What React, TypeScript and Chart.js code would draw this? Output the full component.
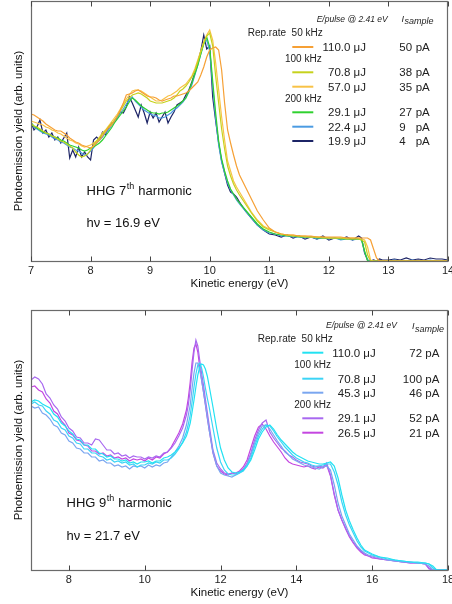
import React, { useEffect, useRef } from 'react';
import { Chart, registerables } from 'chart.js';

Chart.register(...registerables);

const FONT = '"Liberation Sans", Arial, Helvetica, sans-serif';

// ---------------- Top panel: HHG 7th harmonic ----------------
const energy7 = [
  7.0, 7.05, 7.1, 7.15, 7.2, 7.25, 7.3, 7.35, 7.4, 7.45, 7.5, 7.55, 7.6, 7.65, 7.7, 7.75, 7.8, 7.85, 7.9, 7.95,
  8.0, 8.05, 8.1, 8.15, 8.2, 8.25, 8.3, 8.35, 8.4, 8.45, 8.5, 8.55, 8.6, 8.65, 8.7, 8.75, 8.8, 8.85, 8.9, 8.95,
  9.0, 9.05, 9.1, 9.15, 9.2, 9.25, 9.3, 9.35, 9.4, 9.45, 9.5, 9.55, 9.6, 9.65, 9.7,
  9.75, 9.8, 9.85, 9.9, 9.95, 10.0, 10.05, 10.1, 10.15, 10.2, 10.25, 10.3, 10.35, 10.4, 10.45, 10.5,
  10.6, 10.7, 10.8, 10.9, 11.0, 11.1, 11.2, 11.3, 11.4, 11.5, 11.6, 11.7, 11.8, 11.9, 12.0, 12.1, 12.2, 12.3, 12.4, 12.5,
  12.55, 12.6, 12.65, 12.7, 12.75, 12.8, 12.85, 12.9,
  13.0, 13.1, 13.2, 13.3, 13.4, 13.5, 13.6, 13.7, 13.8, 13.9, 14.0,
];

const h7_110 = [
  147, 146, 144, 142, 140, 137, 135, 133, 131, 130, 130, 128, 126, 123, 121, 119, 118, 116, 115, 114,
  113, 115, 118, 121, 125, 129, 133, 136, 140, 145, 151, 158, 166, 167, 168, 170, 171, 169, 167, 165,
  164, 164, 163, 161, 160, 161, 162, 163, 165, 165, 166, 167, 168, 170, 173,
  176, 179, 186, 194, 204, 211, 213, 214, 211, 191, 158, 131, 118, 106, 95, 86,
  74, 62, 50, 41, 33, 29, 27, 26, 26, 25, 25, 25, 24, 24, 24, 24, 24, 23, 23, 23,
  23, 23, 23, 21, 12, 3, 0, 0,
  0, 0, 0, 0, 0, 0, 0, 0, 0, 0, 0,
];
const h7_708 = [
  137, 135, 134, 132, 130, 128, 127, 125, 124, 122, 120, 119, 117, 115, 113, 109, 106, 104, 105, 107,
  111, 116, 120, 123, 127, 130, 134, 137, 141, 145, 150, 155, 160, 163, 166, 167, 168, 167, 165, 163,
  160, 159, 158, 158, 158, 159, 160, 161, 163, 166, 170, 172, 175, 179, 184,
  190, 199, 209, 218, 225, 228, 215, 185, 158, 132, 112, 95, 85, 77, 71, 66,
  57, 48, 40, 34, 31, 29, 27, 26, 25, 25, 24, 24, 24, 23, 23, 23, 23, 22, 22, 22,
  21, 19, 6, 0, 0, 0, 0, 0,
  0, 0, 0, 0, 0, 0, 0, 0, 0, 0, 0,
];
const h7_570 = [
  140, 139, 138, 137, 136, 134, 133, 131, 130, 128, 127, 125, 123, 121, 120, 118, 117, 115, 114, 115,
  116, 118, 120, 124, 128, 131, 135, 139, 143, 147, 152, 157, 162, 166, 170, 171, 171, 170, 168, 166,
  164, 162, 160, 160, 161, 163, 165, 166, 168, 170, 173, 175, 177, 181, 185,
  192, 201, 210, 219, 226, 231, 221, 198, 171, 144, 121, 100, 90, 80, 74, 69,
  59, 49, 41, 35, 32, 29, 27, 26, 26, 25, 25, 24, 24, 24, 23, 23, 23, 23, 23, 23,
  22, 21, 14, 1, 0, 0, 0, 0,
  0, 0, 0, 0, 0, 0, 0, 0, 0, 0, 0,
];
const h7_291 = [
  138, 135, 133, 131, 129, 128, 127, 125, 124, 123, 121, 120, 118, 116, 115, 114, 113, 111, 110, 111,
  113, 114, 116, 118, 121, 125, 129, 133, 138, 142, 146, 150, 154, 159, 163, 161, 158, 155, 153, 151,
  149, 148, 148, 147, 148, 148, 149, 151, 153, 155, 157, 160, 163, 170, 178,
  187, 196, 207, 217, 224, 214, 180, 148, 120, 102, 90, 80, 72, 67, 62, 58,
  51, 44, 37, 32, 29, 27, 26, 25, 25, 24, 24, 24, 23, 23, 23, 23, 22, 22, 22, 22,
  21, 10, 0, 0, 0, 0, 0, 0,
  0, 0, 0, 0, 0, 0, 0, 0, 0, 0, 0,
];
const h7_224 = [
  138, 134, 132, 130, 128, 127, 126, 124, 122, 121, 119, 118, 116, 114, 113, 111, 110, 108, 106, 107,
  110, 113, 118, 121, 124, 128, 131, 135, 139, 143, 148, 152, 157, 161, 164, 160, 157, 154, 151, 149,
  147, 146, 145, 143, 143, 144, 146, 148, 151, 153, 156, 159, 163, 169, 176,
  186, 196, 207, 218, 221, 210, 175, 142, 116, 99, 88, 78, 71, 66, 61, 57,
  50, 43, 36, 31, 28, 27, 25, 25, 24, 24, 23, 24, 22, 23, 22, 23, 21, 22, 21, 22,
  21, 9, 1, 0, 0, 0, 0, 0,
  0, 1, 0, 0, 1, 0, 0, 1, 0, 0, 0,
];
const h7_199 = [
  139, 131, 134, 141, 128, 131, 124, 128, 121, 124, 118, 123, 128, 103, 111, 104, 114, 104, 109, 104,
  101, 121, 124, 121, 129, 126, 133, 138, 139, 144, 149, 148, 154, 164, 158, 151, 144, 156, 148, 138,
  149, 143, 148, 139, 144, 149, 138, 144, 149, 156, 158, 160, 166, 171, 179,
  188, 198, 210, 226, 212, 215, 164, 140, 118, 100, 88, 76, 69, 67, 64, 59,
  50, 43, 36, 31, 27, 26, 24, 26, 23, 25, 22, 24, 22, 25, 21, 23, 22, 24, 21, 25,
  23, 8, 1, 0, 1, 0, 2, 1,
  1, 2, 1, 3, 1, 2, 1, 3, 2, 2, 1,
];
const ticks7 = [7, 8, 9, 10, 11, 12, 13, 14];
const pulse7 = ['110.0 \u03bcJ', '70.8 \u03bcJ', '57.0 \u03bcJ', '29.1 \u03bcJ', '22.4 \u03bcJ', '19.9 \u03bcJ'];
const current7 = ['50', '38', '35', '27', '9', '4'];
const colors7 = ['#f6a035', '#c6d21c', '#f8c246', '#2fd12f', '#4b9be2', '#1c2466'];

// ---------------- Bottom panel: HHG 9th harmonic ----------------
const energy9 = [
  7.0, 7.1, 7.2, 7.3, 7.4, 7.5, 7.6, 7.7, 7.8, 7.9, 8.0, 8.1, 8.2, 8.3, 8.4, 8.5, 8.6, 8.7, 8.8, 8.9,
  9.0, 9.1, 9.2, 9.3, 9.4, 9.5, 9.6, 9.7, 9.8, 9.9, 10.0, 10.1, 10.2, 10.3, 10.4, 10.5, 10.6,
  10.7, 10.8, 10.9, 11.0, 11.1, 11.15, 11.2, 11.25, 11.3, 11.35, 11.4, 11.45, 11.5, 11.55, 11.6, 11.65, 11.7, 11.8, 11.9, 12.0,
  12.1, 12.2, 12.3, 12.4, 12.5, 12.6, 12.7, 12.8, 12.9, 13.0,
  13.1, 13.2, 13.3, 13.4, 13.5, 13.6, 13.7, 13.8, 13.9, 14.0,
  14.1, 14.2, 14.3, 14.4, 14.5, 14.6, 14.7, 14.8, 14.9, 15.0,
  15.1, 15.2, 15.3, 15.4, 15.5, 15.6, 15.7, 15.8, 15.9,
  16.0, 16.2, 16.4, 16.6, 16.8, 17.0, 17.2, 17.4,
  17.5, 17.6, 17.7, 17.8, 18.0,
];
const h9_110 = [
  168, 170, 169, 166, 164, 162, 156, 153, 147, 144, 139, 136, 131, 130, 125, 125, 121, 121, 117, 116,
  113, 114, 111, 111, 109, 110, 107, 108, 106, 108, 108, 109, 107, 109, 109, 112, 113,
  115, 118, 122, 127, 134, 140, 147, 158, 170, 183, 195, 203, 206, 205, 201, 194, 184, 163, 141, 122,
  110, 102, 98, 97, 98, 100, 104, 110, 120, 131,
  138, 143, 145, 141, 135, 130, 126, 122, 118, 115,
  113, 111, 109, 108, 107, 106, 106, 107, 108, 104,
  92, 75, 60, 49, 40, 32, 25, 20, 18,
  16, 13, 12, 10, 9, 8, 8, 7,
  6, 4, 0, 0, 0,
];
const h9_708 = [
  166, 168, 165, 164, 159, 156, 150, 148, 142, 140, 134, 132, 127, 126, 121, 121, 117, 117, 114, 113,
  110, 111, 108, 109, 107, 108, 105, 106, 103, 105, 105, 107, 106, 108, 107, 110, 110,
  112, 116, 121, 128, 138, 146, 155, 168, 183, 196, 205, 207, 202, 193, 182, 172, 163, 142, 122, 108,
  100, 96, 95, 95, 97, 99, 104, 112, 124, 134,
  141, 145, 144, 139, 133, 128, 123, 119, 115, 112,
  110, 108, 107, 105, 104, 104, 105, 106, 106, 98,
  85, 68, 55, 45, 37, 29, 23, 19, 17,
  15, 13, 11, 10, 9, 8, 7, 7,
  6, 2, 0, 0, 0,
];
const h9_453 = [
  164, 162, 163, 157, 155, 151, 145, 143, 137, 135, 129, 127, 122, 121, 117, 117, 113, 113, 109, 110,
  107, 107, 104, 105, 103, 104, 101, 104, 103, 104, 102, 105, 103, 105, 104, 107, 108,
  113, 118, 124, 132, 145, 155, 165, 182, 197, 207, 207, 200, 190, 178, 166, 153, 140, 118, 104, 97,
  95, 94, 93, 95, 97, 100, 106, 115, 127, 137,
  144, 145, 141, 135, 129, 124, 118, 115, 111, 109,
  107, 105, 104, 103, 102, 101, 103, 104, 100, 85,
  67, 54, 45, 36, 30, 24, 20, 17, 15,
  14, 12, 10, 9, 8, 8, 7, 6,
  4, 0, 0, 0, 0,
];
const h9_291 = [
  190, 193, 191, 186, 176, 172, 165, 161, 153, 149, 142, 139, 133, 132, 127, 127, 125, 131, 130, 125,
  120, 120, 116, 117, 114, 115, 112, 114, 113, 113, 111, 113, 112, 114, 113, 117, 118,
  122, 127, 134, 142, 155, 165, 180, 200, 218, 230, 224, 210, 197, 185, 171, 158, 145, 120, 107, 101,
  97, 96, 97, 96, 98, 101, 107, 117, 130, 140,
  147, 150, 138, 132, 127, 122, 119, 115, 113, 110,
  108, 107, 106, 104, 103, 104, 103, 107, 95, 76,
  60, 50, 42, 34, 28, 23, 19, 16, 14,
  13, 11, 10, 9, 8, 7, 7, 6,
  1, 0, 0, 0, 0,
];
const h9_265 = [
  183, 184, 180, 178, 171, 167, 159, 156, 149, 145, 137, 135, 130, 129, 125, 124, 119, 119, 116, 117,
  114, 115, 112, 113, 111, 112, 109, 111, 110, 111, 109, 112, 110, 113, 112, 116, 118,
  123, 130, 137, 146, 160, 172, 188, 208, 222, 226, 218, 203, 190, 178, 165, 152, 140, 117, 104, 99,
  96, 95, 97, 97, 99, 103, 110, 122, 134, 143,
  146, 141, 134, 128, 123, 118, 112, 108, 106, 105,
  104, 103, 104, 102, 101, 103, 102, 105, 94, 75,
  60, 50, 41, 33, 27, 22, 18, 15, 14,
  12, 11, 10, 9, 8, 7, 7, 6,
  2, 0, 0, 0, 0,
];
const ticks9 = [8, 10, 12, 14, 16, 18];
const pulse9 = ['110.0 \u03bcJ', '70.8 \u03bcJ', '45.3 \u03bcJ', '29.1 \u03bcJ', '26.5 \u03bcJ'];
const current9 = ['72 pA', '100 pA', '46 pA', '52 pA', '21 pA'];
const colors9 = ['#22e2f2', '#3cd4f6', '#7aa6f0', '#a868f0', '#c446e0'];

type LegendSpec = {
  headerX: number; headerY: number; iX: number; iY: number;
  repX: number; repY: number;
  groups: { text: string; x: number; y: number }[];
  swX1: number; swX2: number; valueRight: number;
  rowsY: number[];
  currentX: number; currentAlign: 'left' | 'right'; pAX?: number;
  annotX: number; annotY1: number; annotY2: number; harmonic: string; hv: string;
};

function overlayPlugin(spec: LegendSpec, colors: string[], values: string[], currents: string[]) {
  return {
    id: 'overlay',
    afterDraw(chart: any) {
      const { ctx, chartArea, scales } = chart;
      const { left, right, top, bottom } = chartArea;
      const xs = scales.x;
      ctx.save();
      // frame
      ctx.strokeStyle = '#6a6a6a';
      ctx.lineWidth = 1.2;
      const L = Math.round(left) + 0.5, R = Math.round(right) - 0.5;
      const T = Math.round(top) + 0.5, B = Math.round(bottom) + 0.5;
      ctx.strokeRect(L, T, R - L, B - T);
      ctx.lineWidth = 1;
      ctx.strokeStyle = '#444';
      xs.ticks.forEach((t: any) => {
        const px = Math.round(xs.getPixelForValue(t.value)) + 0.5;
        ctx.beginPath();
        ctx.moveTo(px, B); ctx.lineTo(px, B - 5);
        ctx.moveTo(px, T); ctx.lineTo(px, T + 5);
        ctx.stroke();
      });
      // legend
      ctx.fillStyle = '#222';
      ctx.textBaseline = 'alphabetic';
      ctx.textAlign = 'left';
      ctx.font = `italic 8.5px ${FONT}`;
      ctx.fillText('E/pulse @ 2.41 eV', spec.headerX, spec.headerY);
      ctx.font = `italic 9px ${FONT}`;
      ctx.fillText('I', spec.iX, spec.iY);
      const iw = ctx.measureText('I').width;
      ctx.fillText('sample', spec.iX + iw + 0.5, spec.iY + 2.5);
      ctx.font = `10px ${FONT}`;
      ctx.fillText('Rep.rate  50 kHz', spec.repX, spec.repY);
      spec.groups.forEach(g => ctx.fillText(g.text, g.x, g.y));
      spec.rowsY.forEach((y, i) => {
        ctx.strokeStyle = colors[i];
        ctx.lineWidth = 2;
        ctx.beginPath();
        ctx.moveTo(spec.swX1, y); ctx.lineTo(spec.swX2, y);
        ctx.stroke();
        ctx.fillStyle = '#222';
        ctx.font = `11.5px ${FONT}`;
        ctx.textAlign = 'right';
        ctx.fillText(values[i], spec.valueRight, y + 4);
        if (spec.currentAlign === 'right') {
          ctx.fillText(currents[i], spec.currentX, y + 4);
        } else {
          ctx.textAlign = 'left';
          ctx.fillText(currents[i], spec.currentX, y + 4);
          ctx.fillText('pA', spec.pAX as number, y + 4);
        }
        ctx.textAlign = 'left';
      });
      // annotation
      ctx.fillStyle = '#111';
      ctx.font = `13px ${FONT}`;
      const head = `HHG ${spec.harmonic}`;
      ctx.fillText(head, spec.annotX, spec.annotY1);
      const w = ctx.measureText(head).width;
      ctx.font = `9px ${FONT}`;
      ctx.fillText('th', spec.annotX + w + 0.5, spec.annotY1 - 6);
      const w2 = ctx.measureText('th').width;
      ctx.font = `13px ${FONT}`;
      ctx.fillText(' harmonic', spec.annotX + w + w2 + 1, spec.annotY1);
      ctx.fillText(`h\u03bd = ${spec.hv} eV`, spec.annotX, spec.annotY2);
      ctx.restore();
    },
  };
}

function makeConfig(
  energy: number[], series: number[][], colors: string[], xmin: number, xmax: number,
  ticks: number[], padTop: number, padBottom: number, plugin: any,
) {
  return {
    type: 'line' as const,
    data: {
      datasets: series.map((s, i) => ({
        data: energy.map((e, j) => ({ x: e, y: s[j] })),
        borderColor: colors[i],
        backgroundColor: colors[i],
        borderWidth: 1.2,
        pointRadius: 0,
        tension: 0,
        fill: false,
      })),
    },
    options: {
      responsive: false,
      animation: false as const,
      devicePixelRatio: 1,
      layout: { padding: { left: 8, right: 4, top: padTop, bottom: padBottom } },
      plugins: { legend: { display: false }, tooltip: { enabled: false } },
      scales: {
        x: {
          type: 'linear' as const,
          min: xmin,
          max: xmax,
          afterBuildTicks: (s: any) => { s.ticks = ticks.map(v => ({ value: v })); },
          afterFit: (s: any) => { s.height = 34; s.paddingLeft = 0; s.paddingRight = 0; },
          grid: { display: false, drawTicks: false },
          border: { display: false },
          ticks: { padding: 3, color: '#222', autoSkip: false, maxRotation: 0, font: { family: FONT, size: 11 } },
          title: {
            display: true, text: 'Kinetic energy (eV)', color: '#111',
            font: { family: FONT, size: 11.5 }, padding: { top: 0, bottom: 4 },
          },
        },
        y: {
          min: 0,
          max: 260,
          afterFit: (s: any) => { s.width = 23; s.paddingTop = 0; s.paddingBottom = 0; },
          grid: { display: false, drawTicks: false },
          border: { display: false },
          ticks: { display: false },
          title: {
            display: true, text: 'Photoemission yield (arb. units)', color: '#111',
            font: { family: FONT, size: 11.5 }, padding: { top: 4, bottom: 0 },
          },
        },
      },
    },
    plugins: [plugin],
  };
}

export default function App() {
  const topRef = useRef<HTMLCanvasElement>(null);
  const botRef = useRef<HTMLCanvasElement>(null);

  useEffect(() => {
    const spec7: LegendSpec = {
      headerX: 316.7, headerY: 21.5, iX: 401.5, iY: 21.5,
      repX: 247.7, repY: 35.7,
      groups: [{ text: '100 kHz', x: 285, y: 62.3 }, { text: '200 kHz', x: 285, y: 102 }],
      swX1: 292.3, swX2: 313.3, valueRight: 366,
      rowsY: [47, 72.3, 86.7, 112.3, 126.7, 141],
      currentX: 399.3, currentAlign: 'left', pAX: 415.7,
      annotX: 86.5, annotY1: 195, annotY2: 226.5, harmonic: '7', hv: '16.9',
    };
    const spec9: LegendSpec = {
      headerX: 326, headerY: 28.3, iX: 412, iY: 29,
      repX: 257.7, repY: 42.3,
      groups: [{ text: '100 kHz', x: 294.3, y: 68.3 }, { text: '200 kHz', x: 294.3, y: 108.3 }],
      swX1: 302.3, swX2: 323.3, valueRight: 375.7,
      rowsY: [52.7, 78.7, 92.7, 118.3, 132.7],
      currentX: 439.3, currentAlign: 'right',
      annotX: 66.5, annotY1: 207, annotY2: 239.5, harmonic: '9', hv: '21.7',
    };
    const c1 = new Chart(topRef.current as HTMLCanvasElement, makeConfig(
      energy7, [h7_110, h7_708, h7_570, h7_291, h7_224, h7_199], colors7, 7, 14, ticks7, 1, 5,
      overlayPlugin(spec7, colors7, pulse7, current7),
    ) as any);
    const c2 = new Chart(botRef.current as HTMLCanvasElement, makeConfig(
      energy9, [h9_110, h9_708, h9_453, h9_291, h9_265], colors9, 7, 18, ticks9, 10, 0,
      overlayPlugin(spec9, colors9, pulse9, current9),
    ) as any);
    return () => { c1.destroy(); c2.destroy(); };
  }, []);

  return (
    <div style={{ position: 'absolute', left: 0, top: 0, width: 452, height: 604, background: '#fff' }}>
      <canvas ref={topRef} width={452} height={300} style={{ position: 'absolute', left: 0, top: 0 }} />
      <canvas ref={botRef} width={452} height={304} style={{ position: 'absolute', left: 0, top: 300 }} />
    </div>
  );
}
